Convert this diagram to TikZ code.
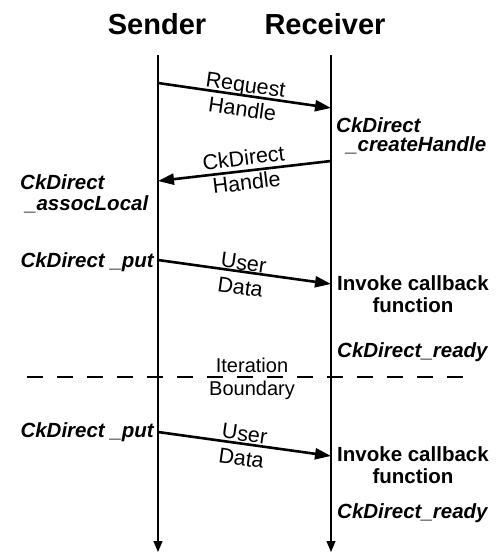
\documentclass[tikz,border=0pt]{standalone}
\usepackage{fontspec}
\setmainfont{Liberation Sans}
\usetikzlibrary{arrows.meta}
\begin{document}
\begin{tikzpicture}[x=1pt,y=-1pt,
  lifeline/.style={line width=1.1pt,-{Triangle[length=11pt,width=9pt]}},
  msg/.style={line width=2.6pt,-{Triangle[length=16pt,width=11pt]}},
  title/.style={font=\fontsize{29}{32}\selectfont\bfseries,anchor=base},
  msglabel/.style={font=\fontsize{21.5}{24.5}\selectfont,inner sep=0pt,align=center},
  call/.style={font=\fontsize{20.5}{24}\selectfont\bfseries\itshape,inner sep=0pt},
  action/.style={font=\fontsize{20.5}{24}\selectfont\bfseries,inner sep=0pt,anchor=base},
  boundary/.style={font=\fontsize{20}{24}\selectfont,inner sep=0pt,anchor=base}]
\useasboundingbox (0,0) rectangle (503,554);

% column titles
\node[title] (sender) at (157,34) {Sender};
\node[title] (receiver) at (325,34) {Receiver};

% lifelines
\coordinate (s0) at (158,55);
\coordinate (s1) at (158,552);
\coordinate (r0) at (331,55);
\coordinate (r1) at (331,552);
\draw[lifeline] (s0) -- (s1);
\draw[lifeline] (r0) -- (r1);

% message end points on the lifelines
\coordinate (m1a) at (158,83);
\coordinate (m1b) at (331,108);
\coordinate (m2a) at (331,161);
\coordinate (m2b) at (158,181);
\coordinate (m3a) at (158,260);
\coordinate (m3b) at (331,284);
\coordinate (m4a) at (158,432);
\coordinate (m4b) at (331,456);

% handle request
\draw[msg] (m1a) -- (m1b);
\node[msglabel,rotate=-8] (req) at (244,97) {Request\\Handle};
\node[call,anchor=base west] (create1) at (336,132) {CkDirect};
\node[call,anchor=base west] (create2) at (346,151) {\_createHandle};

% handle reply
\draw[msg] (m2a) -- (m2b);
\node[msglabel,rotate=7] (rep) at (245,170) {CkDirect\\Handle};
\node[call,anchor=base west] (assoc1) at (20,189) {CkDirect};
\node[call,anchor=base west] (assoc2) at (25,210) {\_assocLocal};

% first data transfer
\draw[msg] (m3a) -- (m3b);
\node[msglabel,rotate=-8] (data1) at (242,275) {User\\Data};
\node[call,anchor=base east] (put1) at (154,267) {CkDirect \_put};
\node[action] (cb1a) at (413,290) {Invoke callback};
\node[action] (cb1b) at (413,312) {function};
\node[call,anchor=base west] (ready1) at (337,357) {CkDirect\_ready};

% iteration boundary
\coordinate (b0) at (27,377);
\coordinate (b1) at (463,377);
\draw[line width=1.8pt,dash pattern=on 16pt off 14pt] (b0) -- (b1);
\node[boundary] (iter1) at (252,372) {Iteration};
\node[boundary] (iter2) at (252,395) {Boundary};

% second data transfer
\draw[msg] (m4a) -- (m4b);
\node[msglabel,rotate=-8] (data2) at (243,446) {User\\Data};
\node[call,anchor=base east] (put2) at (154,437) {CkDirect \_put};
\node[action] (cb2a) at (413,461) {Invoke callback};
\node[action] (cb2b) at (413,483) {function};
\node[call,anchor=base west] (ready2) at (337,518) {CkDirect\_ready};
\end{tikzpicture}
\end{document}
